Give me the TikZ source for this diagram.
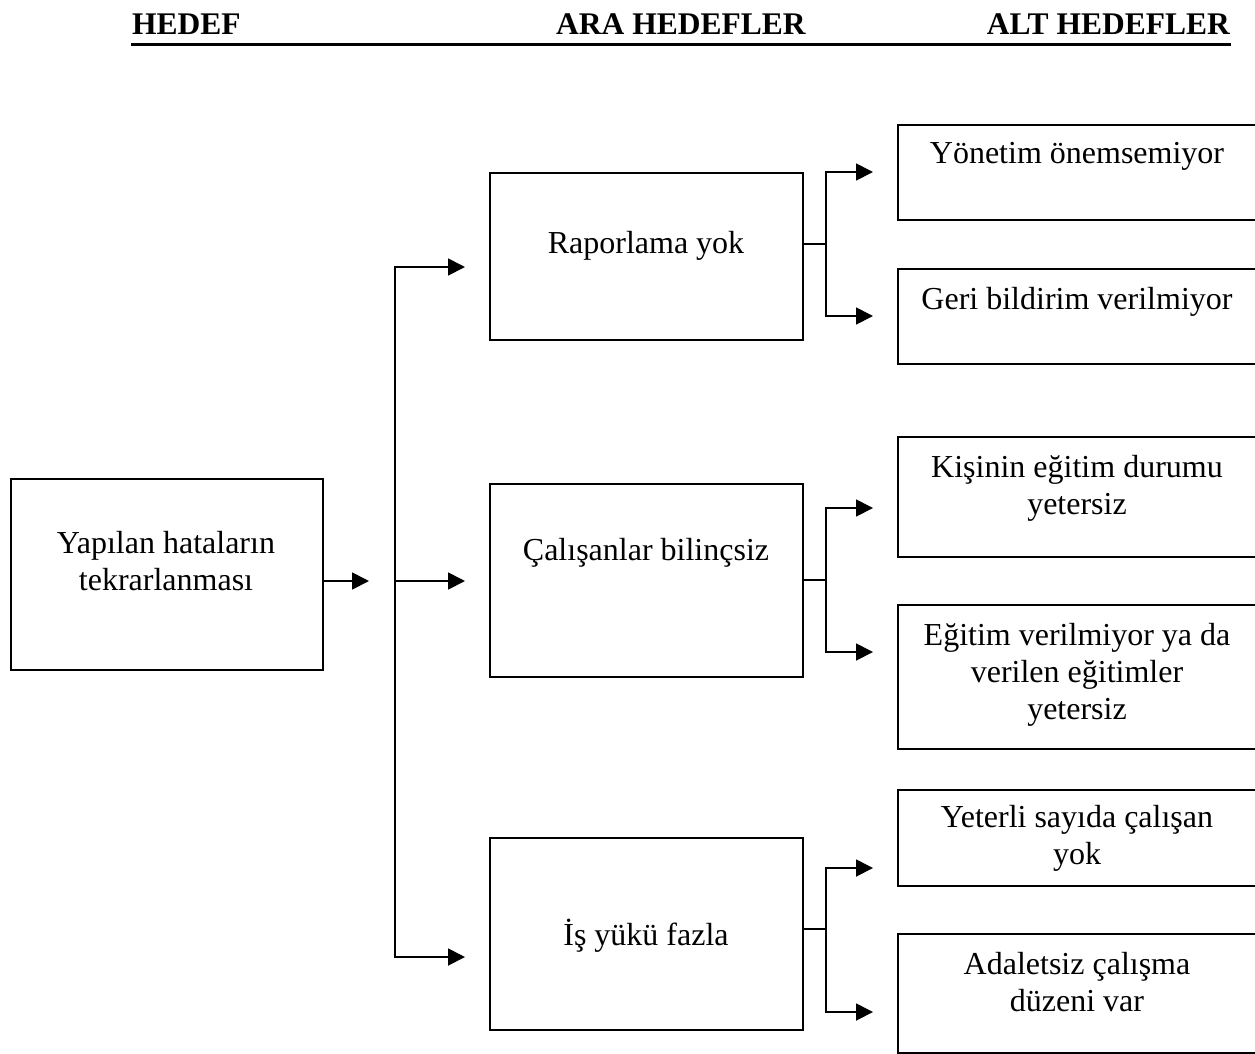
\documentclass[tikz,border=0pt]{standalone}
\usepackage{fontspec}
\setmainfont{Liberation Serif}
\usetikzlibrary{arrows.meta}
% zero-width strut fixing the height of the first line of a label
\newcommand\lnht{\rule{0pt}{30pt}}
\begin{document}
\begin{tikzpicture}[x=1pt,y=-1pt,
  bx/.style={draw, line width=1.8pt, anchor=north west, inner sep=0pt},
  txt/.style={anchor=north, inner sep=0pt, align=center, font=\fontsize{32}{37}\selectfont},
  head/.style={anchor=base west, inner sep=0pt, font=\fontsize{31.5}{36}\selectfont\bfseries},
  link/.style={line width=1.8pt},
  tip/.style={-{Triangle[length=17pt,width=17pt]}},
  arr/.style={link, tip, shorten >=24pt}]
\useasboundingbox (0,0) rectangle (1255,1053);
\fill[white] (0,0) rectangle (1255,1053);
\clip (0,0) rectangle (1255,1053);

% column headings
\node[head] (hA) at (132,34) {HEDEF};
\node[head] (hB) at (556,34) {ARA HEDEFLER};
\node[head, anchor=base east] (hC) at (1230,34) {ALT HEDEFLER};
\draw[line width=3.5pt] (131,44.5) -- (1231,44.5);

% main goal
\node[bx, minimum width=312pt, minimum height=191pt] (L) at (10,478) {};
\node[txt] (tL) at (166,523) {\lnht Yapılan hataların\\tekrarlanması};

% intermediate goals
\node[bx, minimum width=313pt, minimum height=167pt] (M1) at (489,172) {};
\node[bx, minimum width=313pt, minimum height=193pt] (M2) at (489,483) {};
\node[bx, minimum width=313pt, minimum height=192pt] (M3) at (489,837) {};
\node[txt] (tM1) at (646,223) {\lnht Raporlama yok};
\node[txt] (tM2) at (646,530) {\lnht Çalışanlar bilinçsiz};
\node[txt] (tM3) at (646,915) {\lnht İş yükü fazla};

% sub goals
\node[bx, minimum width=370pt, minimum height=95pt]  (R1) at (897,124) {};
\node[bx, minimum width=370pt, minimum height=95pt]  (R2) at (897,268) {};
\node[bx, minimum width=370pt, minimum height=120pt] (R3) at (897,436) {};
\node[bx, minimum width=370pt, minimum height=144pt] (R4) at (897,604) {};
\node[bx, minimum width=370pt, minimum height=96pt]  (R5) at (897,789) {};
\node[bx, minimum width=370pt, minimum height=119pt] (R6) at (897,933) {};
\node[txt] (tR1) at (1077,133) {\lnht Yönetim önemsemiyor};
\node[txt] (tR2) at (1077,279) {\lnht Geri bildirim verilmiyor};
\node[txt] (tR3) at (1077,447) {\lnht Kişinin eğitim durumu\\yetersiz};
\node[txt] (tR4) at (1077,615) {\lnht Eğitim verilmiyor ya da\\verilen eğitimler\\yetersiz};
\node[txt] (tR5) at (1077,797) {\lnht Yeterli sayıda çalışan\\yok};
\node[txt] (tR6) at (1077,944) {\lnht Adaletsiz çalışma\\düzeni var};

% main goal to the trunk
\coordinate (lt) at (369,581);
\draw[link, tip] (L.east |- lt) -- (lt);

% trunk feeding the intermediate goals
\coordinate (tk1) at (395,267);
\coordinate (tk2) at (395,581);
\coordinate (tk3) at (395,957);
\draw[arr] (tk3) -- (tk1) -- (M1.west |- tk1);
\draw[arr] (tk1) -- (tk3) -- (M3.west |- tk3);
\draw[arr] (tk2) -- (M2.west |- tk2);

% branches to the sub goals
\coordinate (j1) at (826,244);
\coordinate (u1) at (826,172);
\coordinate (d1) at (826,316);
\draw[link] (M1.east |- j1) -- (j1);
\draw[arr] (d1) -- (u1) -- (R1.west |- u1);
\draw[arr] (u1) -- (d1) -- (R2.west |- d1);

\coordinate (j2) at (826,580);
\coordinate (u2) at (826,508);
\coordinate (d2) at (826,652);
\draw[link] (M2.east |- j2) -- (j2);
\draw[arr] (d2) -- (u2) -- (R3.west |- u2);
\draw[arr] (u2) -- (d2) -- (R4.west |- d2);

\coordinate (j3) at (826,929);
\coordinate (u3) at (826,868);
\coordinate (d3) at (826,1012);
\draw[link] (M3.east |- j3) -- (j3);
\draw[arr] (d3) -- (u3) -- (R5.west |- u3);
\draw[arr] (u3) -- (d3) -- (R6.west |- d3);
\end{tikzpicture}
\end{document}
